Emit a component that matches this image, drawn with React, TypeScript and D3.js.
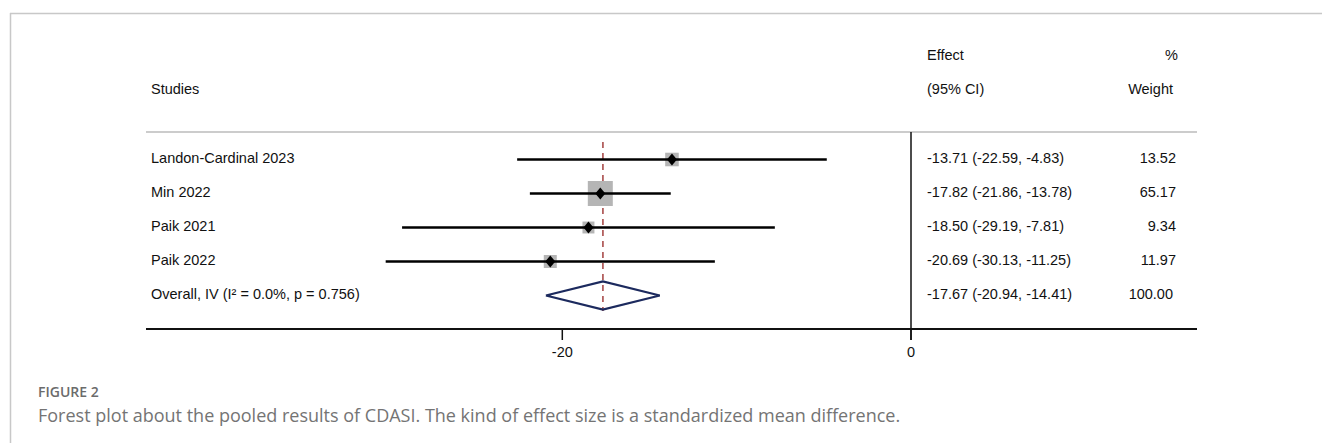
import * as d3 from "d3";

const studies = ["Landon-Cardinal 2023", "Min 2022", "Paik 2021", "Paik 2022"];
const effects = [-13.71, -17.82, -18.5, -20.69];
const lowers = [-22.59, -21.86, -29.19, -30.13];
const uppers = [-4.83, -13.78, -7.81, -11.25];
const weights = [13.52, 65.17, 9.34, 11.97];

const overallLabel = "Overall, IV (I\u00B2 = 0.0%, p = 0.756)";
const overallEffect = -17.67;
const overallLower = -20.94;
const overallUpper = -14.41;
const overallWeight = 100.0;

const xTicks = [-20, 0];

const W = 1322;
const H = 443;

const font = "'Liberation Sans', Arial, Helvetica, sans-serif";
const capFont = "'Open Sans', 'Noto Sans', sans-serif";

export default function App() {
  const x = d3.scaleLinear().domain([-20, 0]).range([562.3, 911]);
  const rowY = d3.scaleLinear().domain([0, 1]).range([159.5, 193.5]);
  const side = (w: number) => 4 + 2.6 * Math.sqrt(w);

  const left = 146;
  const right = 1197;
  const topLine = 132;
  const axisY = 329;
  const labelX = 151;
  const effX = 927;
  const wX = 1176;
  const fs = 14.5;

  const rows = studies.map((s, i) => ({
    s,
    e: effects[i],
    lo: lowers[i],
    hi: uppers[i],
    w: weights[i],
    y: rowY(i),
  }));
  const oy = rowY(studies.length);
  const fmt = (v: number) => v.toFixed(2);

  const diamond = d3.line()([
    [x(overallLower), oy],
    [x(overallEffect), oy - 14],
    [x(overallUpper), oy],
    [x(overallEffect), oy + 14],
    [x(overallLower), oy],
  ] as [number, number][]);

  return (
    <svg width={W} height={H} style={{ position: "absolute", left: 0, top: 0, background: "#fff" }}>
      {/* card frame */}
      <line x1={10} x2={W} y1={13.5} y2={13.5} stroke="#c8c8c8" strokeWidth={1.5} />
      <line x1={10.5} x2={10.5} y1={13} y2={H} stroke="#c8c8c8" strokeWidth={1.5} />

      {/* headers */}
      <g fontFamily={font} fontSize={fs} fill="#111">
        <text x={labelX} y={90} dominantBaseline="middle">Studies</text>
        <text x={effX} y={56} dominantBaseline="middle">Effect</text>
        <text x={effX} y={90} dominantBaseline="middle">(95% CI)</text>
        <text x={1178} y={56} dominantBaseline="middle" textAnchor="end">%</text>
        <text x={1173} y={90} dominantBaseline="middle" textAnchor="end">Weight</text>
      </g>

      <line x1={left} x2={right} y1={topLine} y2={topLine} stroke="#cccccc" strokeWidth={2} />

      {/* null line */}
      <line x1={x(0)} x2={x(0)} y1={topLine} y2={axisY + 11} stroke="#111" strokeWidth={1.5} />

      {/* overall effect reference line */}
      <line
        x1={x(overallEffect)}
        x2={x(overallEffect)}
        y1={142}
        y2={311}
        stroke="#a4403f"
        strokeWidth={1.5}
        strokeDasharray="6,5"
      />

      {rows.map((r, i) => (
        <g key={i}>
          <rect
            x={x(r.e) - side(r.w) / 2}
            y={r.y - side(r.w) / 2}
            width={side(r.w)}
            height={side(r.w)}
            fill="#b5b5b5"
          />
          <line x1={x(r.lo)} x2={x(r.hi)} y1={r.y} y2={r.y} stroke="#000" strokeWidth={2.5} />
          <path
            d={`M${x(r.e) - 5},${r.y}L${x(r.e)},${r.y - 6}L${x(r.e) + 5},${r.y}L${x(r.e)},${r.y + 6}Z`}
            fill="#000"
          />
          <g fontFamily={font} fontSize={fs} fill="#111">
            <text x={labelX} y={r.y} dominantBaseline="middle">{r.s}</text>
            <text x={effX} y={r.y} dominantBaseline="middle">
              {`${fmt(r.e)} (${fmt(r.lo)}, ${fmt(r.hi)})`}
            </text>
            <text x={wX} y={r.y} dominantBaseline="middle" textAnchor="end">{fmt(r.w)}</text>
          </g>
        </g>
      ))}

      {/* overall */}
      <path d={diamond ?? ""} fill="none" stroke="#1c2a5e" strokeWidth={2.2} strokeLinejoin="miter" />
      <g fontFamily={font} fontSize={fs} fill="#111">
        <text x={labelX} y={oy} dominantBaseline="middle">{overallLabel}</text>
        <text x={effX} y={oy} dominantBaseline="middle">
          {`${fmt(overallEffect)} (${fmt(overallLower)}, ${fmt(overallUpper)})`}
        </text>
        <text x={1173} y={oy} dominantBaseline="middle" textAnchor="end">{fmt(overallWeight)}</text>
      </g>

      {/* axis */}
      <line x1={left} x2={right} y1={axisY} y2={axisY} stroke="#111" strokeWidth={2} />
      {xTicks.map((t) => (
        <g key={t}>
          <line x1={x(t)} x2={x(t)} y1={axisY} y2={axisY + 11} stroke="#111" strokeWidth={1.5} />
          <text
            x={x(t)}
            y={353}
            textAnchor="middle"
            dominantBaseline="middle"
            fontFamily={font}
            fontSize={fs}
            fill="#111"
          >
            {t}
          </text>
        </g>
      ))}

      {/* caption */}
      <text x={38} y={393} fontFamily={capFont} fontSize={14} fontWeight={600} fill="#6b6b6b" dominantBaseline="middle">
        FIGURE 2
      </text>
      <text x={38} y={417} fontFamily={capFont} fontSize={18} fill="#747474" dominantBaseline="middle">
        Forest plot about the pooled results of CDASI. The kind of effect size is a standardized mean difference.
      </text>
    </svg>
  );
}
